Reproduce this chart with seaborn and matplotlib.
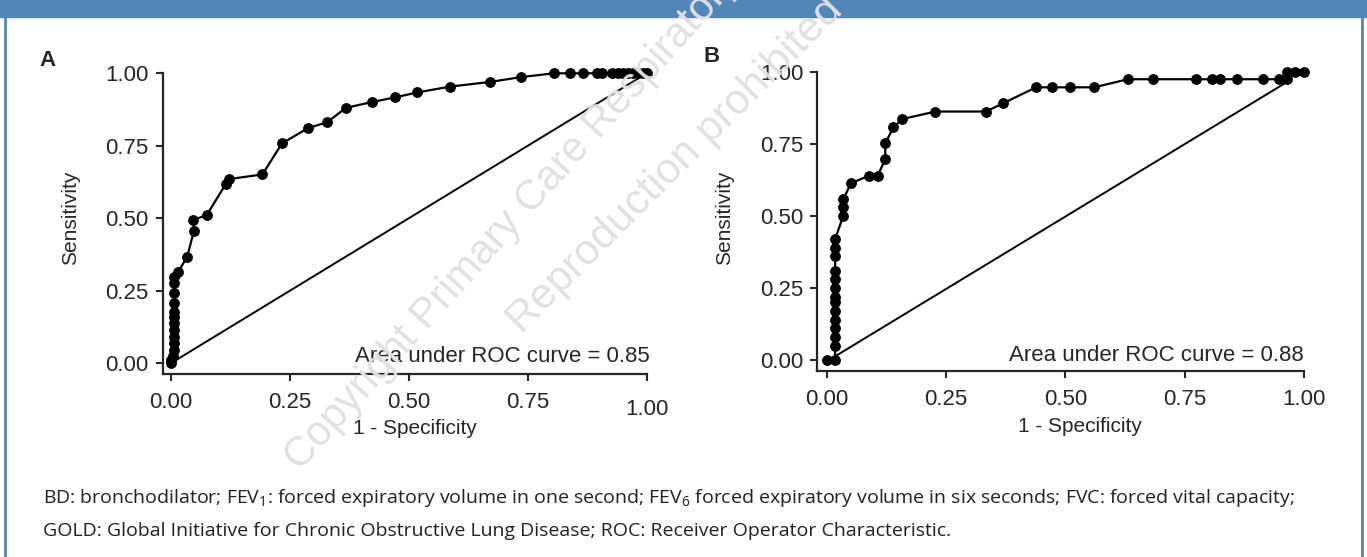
import numpy as np
import pandas as pd
import matplotlib
matplotlib.use("Agg")
import matplotlib.pyplot as plt
import seaborn as sns
from matplotlib.patches import Rectangle
from matplotlib.lines import Line2D

# ROC points
fpr_a = [0.000, 0.000, 0.004, 0.006, 0.006, 0.006, 0.006, 0.006, 0.006, 0.006,
         0.006, 0.006, 0.006, 0.006, 0.015, 0.034, 0.048, 0.047, 0.075, 0.115,
         0.122, 0.192, 0.233, 0.288, 0.328, 0.368, 0.423, 0.471, 0.518, 0.586,
         0.670, 0.736, 0.805, 0.839, 0.867, 0.895, 0.905, 0.926, 0.940, 0.951,
         0.961, 0.972, 0.982, 0.993, 1.000]
tpr_a = [0.000, 0.012, 0.025, 0.045, 0.068, 0.091, 0.114, 0.137, 0.160, 0.175,
         0.206, 0.241, 0.275, 0.296, 0.315, 0.367, 0.457, 0.494, 0.511, 0.618,
         0.635, 0.651, 0.758, 0.811, 0.831, 0.881, 0.901, 0.917, 0.934, 0.954,
         0.970, 0.987, 1.000, 1.000, 1.000, 1.000, 1.000, 1.000, 1.000, 1.000,
         1.000, 1.000, 1.000, 1.000, 1.000]

fpr_b = [0.000, 0.018, 0.018, 0.018, 0.018, 0.018, 0.018, 0.018, 0.018, 0.018,
         0.018, 0.018, 0.018, 0.018, 0.018, 0.035, 0.035, 0.035, 0.051, 0.088,
         0.107, 0.123, 0.123, 0.140, 0.159, 0.228, 0.334, 0.369, 0.439, 0.473,
         0.509, 0.561, 0.631, 0.684, 0.773, 0.808, 0.825, 0.860, 0.914, 0.947,
         0.965, 0.965, 0.982, 1.000]
tpr_b = [0.000, 0.000, 0.050, 0.080, 0.110, 0.140, 0.170, 0.200, 0.220, 0.250,
         0.280, 0.310, 0.360, 0.390, 0.420, 0.500, 0.532, 0.557, 0.613, 0.639,
         0.639, 0.697, 0.752, 0.807, 0.836, 0.862, 0.862, 0.890, 0.946, 0.946,
         0.946, 0.946, 0.974, 0.974, 0.974, 0.974, 0.974, 0.974, 0.974, 0.974,
         0.974, 1.000, 1.000, 1.000]

diag_a_x = [0.0, 1.0]
diag_a_y = [0.0, 1.0]
diag_b_x = [0.015, 0.97]
diag_b_y = [0.01, 0.97]

ticks = [0.0, 0.25, 0.5, 0.75, 1.0]
tick_labels = ["0.00", "0.25", "0.50", "0.75", "1.00"]
panel_letters = ["A", "B"]
auc_labels = ["Area under ROC curve = 0.85", "Area under ROC curve = 0.88"]
caption = [
    r"BD: bronchodilator; FEV$_\mathregular{1}$: forced expiratory volume in one second; "
    r"FEV$_\mathregular{6}$ forced expiratory volume in six seconds; FVC: forced vital capacity;",
    "GOLD: Global Initiative for Chronic Obstructive Lung Disease; ROC: Receiver Operator Characteristic.",
]

sns.set_style("ticks")
plt.rcParams["font.family"] = ["Liberation Sans", "DejaVu Sans"]

W, H = 1367, 557
fig = plt.figure(figsize=(W / 100, H / 100), dpi=100)

# blue frame of the figure box
blue = "#5286b8"
fig.patches.append(Rectangle((0, 1 - 17 / H), 1, 17 / H, transform=fig.transFigure,
                             color=blue, zorder=0))
for xp in [5 / W, 1362 / W]:
    fig.add_artist(Line2D([xp, xp], [0, 1 - 17 / H], color=blue, lw=2,
                          transform=fig.transFigure))

panels = [
    dict(fpr=fpr_a, tpr=tpr_a, dx=diag_a_x, dy=diag_a_y, pos=[0.1190, 0.3294, 0.3541, 0.5390],
         xlim=(-0.0177, 1.0), ylim=(-0.036, 1.0), auc_x=1.007, auc_y=0.005,
         ylab=(-0.170, 0.518), xlab=(0.522, -0.150), letter=(47, 60)),
    dict(fpr=fpr_b, tpr=tpr_b, dx=diag_b_x, dy=diag_b_y, pos=[0.5979, 0.3339, 0.3560, 0.5373],
         xlim=(-0.0193, 1.0), ylim=(-0.038, 1.0), auc_x=0.999, auc_y=-0.003,
         ylab=(-0.172, 0.511), xlab=(0.540, -0.155), letter=(712, 57)),
]

for i, p in enumerate(panels):
    ax = fig.add_axes(p["pos"])
    df = pd.DataFrame({"fpr": p["fpr"], "tpr": p["tpr"]})
    sns.lineplot(data=df, x="fpr", y="tpr", sort=False, estimator=None, ax=ax,
                 color="black", linewidth=1.6, marker="o", markersize=7,
                 markeredgecolor="black", clip_on=False, zorder=3)
    ax.plot(p["dx"], p["dy"], color="black", lw=1.4, zorder=2)

    ax.set_xlim(*p["xlim"])
    ax.set_ylim(*p["ylim"])
    ax.set_xticks(ticks)
    ax.set_xticklabels(tick_labels)
    ax.set_yticks(ticks)
    ax.set_yticklabels(tick_labels)
    sns.despine(ax=ax)
    for s in ["left", "bottom"]:
        ax.spines[s].set_linewidth(1.6)
    ax.tick_params(direction="out", length=5, width=1.5, labelsize=16, pad=5)
    ax.tick_params(axis="x", pad=8)
    if i == 0:
        # the last x label of panel A sits a bit lower
        ax.xaxis.get_major_ticks()[-1].set_pad(13)

    ax.set_xlabel("1 - Specificity", fontsize=15)
    ax.set_ylabel("Sensitivity", fontsize=15)
    ax.xaxis.set_label_coords(*p["xlab"])
    ax.yaxis.set_label_coords(*p["ylab"])

    ax.text(p["auc_x"], p["auc_y"], auc_labels[i], ha="right", va="baseline", fontsize=16)
    fig.text(p["letter"][0] / W, 1 - p["letter"][1] / H, panel_letters[i],
             ha="center", va="center", fontsize=16, fontweight="bold")

# caption
for j, line in enumerate(caption):
    fig.text(43 / W, 1 - (503 + 33 * j) / H, line, fontsize=14, color="#231f20",
             family=["Open Sans", "DejaVu Sans"], va="baseline", ha="left")

# faint watermark
fig.text(300 / W, 1 - 472 / H, "Copyright Primary Care Respiratory Society UK",
         rotation=48, rotation_mode="anchor", ha="left", va="baseline",
         fontsize=30, color="#e0e0e0", zorder=10)
fig.text(522 / W, 1 - 335 / H, "Reproduction prohibited",
         rotation=45, rotation_mode="anchor", ha="left", va="baseline",
         fontsize=31, color="#e0e0e0", zorder=10)

fig.savefig("out.png", dpi=100)
